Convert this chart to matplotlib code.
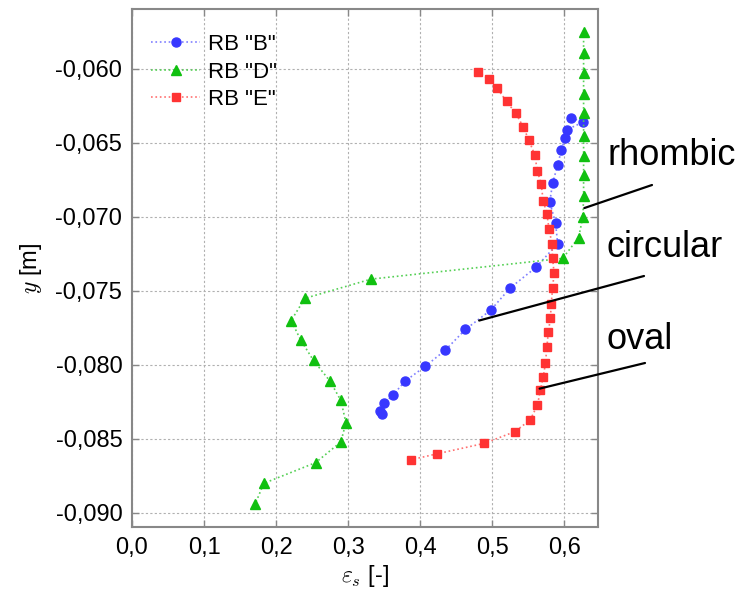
import matplotlib
matplotlib.use("Agg")
import matplotlib.pyplot as plt

plt.rcParams['font.family'] = ['Liberation Sans', 'DejaVu Sans']
plt.rcParams['mathtext.fontset'] = 'cm'

# RB "B" (circular)
x_B = [0.610, 0.626, 0.604, 0.601, 0.596, 0.591, 0.584, 0.580, 0.588, 0.591, 0.561,
       0.525, 0.498, 0.463, 0.435, 0.407, 0.379, 0.363, 0.350, 0.344, 0.347]
y_B = [-0.0633, -0.0636, -0.0641, -0.0647, -0.0655, -0.0665, -0.0677, -0.0690, -0.0704,
       -0.0718, -0.0734, -0.0748, -0.0763, -0.0776, -0.0790, -0.0801, -0.0811, -0.0820,
       -0.0826, -0.0831, -0.0833]

# RB "D" (rhombic)
x_D = [0.627, 0.627, 0.627, 0.627, 0.627, 0.627, 0.627, 0.627, 0.627, 0.626, 0.620,
       0.598, 0.332, 0.240, 0.221, 0.234, 0.252, 0.275, 0.290, 0.297, 0.290, 0.255,
       0.183, 0.171]
y_D = [-0.0575, -0.0589, -0.0603, -0.0617, -0.0630, -0.0645, -0.0659, -0.0672, -0.0686,
       -0.0700, -0.0714, -0.0728, -0.0742, -0.0755, -0.0770, -0.0783, -0.0797, -0.0811,
       -0.0824, -0.0839, -0.0852, -0.0866, -0.0880, -0.0894]

# RB "E" (oval)
x_E = [0.480, 0.496, 0.507, 0.520, 0.533, 0.543, 0.551, 0.559, 0.563, 0.568, 0.571,
       0.576, 0.579, 0.583, 0.584, 0.586, 0.584, 0.582, 0.581, 0.578, 0.576, 0.574,
       0.571, 0.567, 0.563, 0.553, 0.532, 0.489, 0.424, 0.388]
y_E = [-0.0602, -0.0607, -0.0613, -0.0622, -0.0630, -0.0639, -0.0648, -0.0658, -0.0669,
       -0.0678, -0.0689, -0.0698, -0.0708, -0.0718, -0.0728, -0.0738, -0.0748, -0.0759,
       -0.0768, -0.0778, -0.0788, -0.0799, -0.0808, -0.0817, -0.0827, -0.0837, -0.0845,
       -0.0853, -0.0860, -0.0864]

x_ticks = [0.0, 0.1, 0.2, 0.3, 0.4, 0.5, 0.6]
x_ticklabels = ["0,0", "0,1", "0,2", "0,3", "0,4", "0,5", "0,6"]
y_ticks = [-0.090, -0.085, -0.080, -0.075, -0.070, -0.065, -0.060]
y_ticklabels = ["-0,090", "-0,085", "-0,080", "-0,075", "-0,070", "-0,065", "-0,060"]

# labels on the right: (text, point on curve)
notes = [("rhombic", (0.628, -0.0694)),
         ("circular", (0.482, -0.0770)),
         ("oval", (0.566, -0.0816))]

W, H = 749, 590
fig = plt.figure(figsize=(W / 100, H / 100), dpi=100)
fig.subplots_adjust(left=132 / W, right=598 / W, top=1 - 9 / H, bottom=1 - 527 / H)
ax = fig.add_subplot(111)

ax.plot(x_B, y_B, ls=':', lw=1.2, color='#7f7fff', marker='o', ms=6.5,
        mfc='#3737ff', mec='#3737ff', label='RB "B"')
ax.plot(x_D, y_D, ls=':', lw=1.2, color='#55d055', marker='^', ms=6.5,
        mfc='#10c010', mec='#10c010', label='RB "D"')
ax.plot(x_E, y_E, ls=':', lw=1.2, color='#ff7070', marker='s', ms=5.5,
        mfc='#ff3333', mec='#ff3333', label='RB "E"')

ax.set_xlim(0, 0.647)
ax.set_ylim(-0.09095, -0.05595)
ax.set_xticks(x_ticks)
ax.set_xticklabels(x_ticklabels)
ax.set_yticks(y_ticks)
ax.set_yticklabels(y_ticklabels)
ax.tick_params(direction='in', length=5, width=1, color='#888888', labelsize=17,
               top=True, right=True, pad=7)
ax.grid(True, color='#b0b0b0', ls=(0, (2, 2)), lw=0.8)
for s in ax.spines.values():
    s.set_color('#888888')
    s.set_linewidth(1.5)

ax.set_xlabel(r'$\varepsilon_s$ [-]', fontsize=17, labelpad=3)
ax.set_ylabel(r'$y$ [m]', fontsize=17, labelpad=8)

ax.legend(loc='upper left', frameon=False, fontsize=16, handlelength=2.2,
          handletextpad=0.35, labelspacing=0.3, borderaxespad=0, borderpad=0,
          bbox_to_anchor=(0.041, 0.952))

text_pos = [(608, 165), (607, 257), (607, 349)]
line_end = [(652, 185), (644, 276), (645, 363)]
for (txt, pt), (tx, ty), (lx, ly) in zip(notes, text_pos, line_end):
    fig.text(tx / W, 1 - ty / H, txt, fontsize=26, va='baseline', ha='left')
    ax.annotate('', xy=pt, xycoords='data', xytext=(lx / W, 1 - ly / H),
                textcoords='figure fraction', annotation_clip=False,
                arrowprops=dict(arrowstyle='-', lw=1.6, color='black',
                                shrinkA=0, shrinkB=0))

fig.savefig("out.png", dpi=100)
